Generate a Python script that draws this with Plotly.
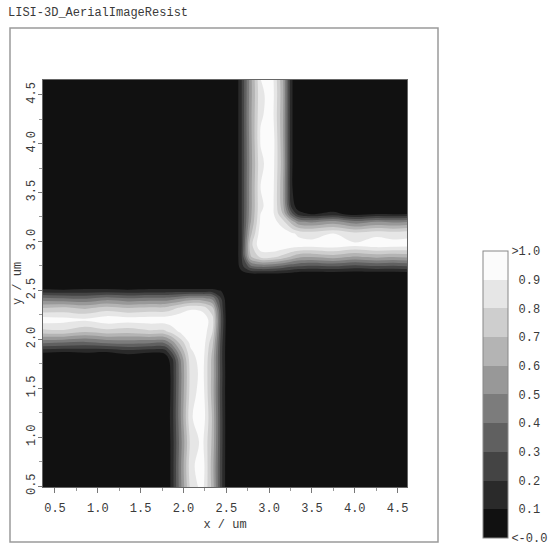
import plotly.graph_objects as go

# ---- data ----
# non-uniform grid (um) placed along the feature edges
x_um = [0.35, 0.6, 0.85, 1.1, 1.35, 1.6, 1.78, 1.86, 1.96, 2.08, 2.22, 2.34, 2.44, 2.52,
        2.6, 2.68, 2.78, 2.9, 3.04, 3.16, 3.26, 3.34, 3.5, 3.75, 4.0, 4.25, 4.45, 4.62]
y_um = [0.48, 0.7, 0.95, 1.2, 1.45, 1.65, 1.79, 1.87, 1.96, 2.08, 2.2, 2.32, 2.42, 2.5,
        2.58, 2.66, 2.74, 2.84, 2.96, 3.08, 3.2, 3.28, 3.36, 3.55, 3.8, 4.05, 4.3, 4.5, 4.66]

# resist aerial image intensity in percent, rows = y_um, columns = x_um
z_percent = [
    [0, 0, 0, 0, 0, 0,   0, 12, 45, 82, 94, 66, 24, 0,   0, 0, 0, 0, 0, 0, 0, 0,   0, 0, 0, 0, 0, 0],
    [0, 0, 0, 0, 0, 0,   0, 12, 46, 86, 97, 64, 24, 0,   0, 0, 0, 0, 0, 0, 0, 0,   0, 0, 0, 0, 0, 0],
    [0, 0, 0, 0, 0, 0,   0, 12, 44, 82, 93, 67, 25, 0,   0, 0, 0, 0, 0, 0, 0, 0,   0, 0, 0, 0, 0, 0],
    [0, 0, 0, 0, 0, 0,   0, 13, 47, 88, 98, 68, 25, 0,   0, 0, 0, 0, 0, 0, 0, 0,   0, 0, 0, 0, 0, 0],
    [0, 0, 0, 0, 0, 0,   0, 12, 46, 84, 96, 65, 24, 0,   0, 0, 0, 0, 0, 0, 0, 0,   0, 0, 0, 0, 0, 0],
    [0, 0, 0, 0, 0, 0,   0, 12, 45, 83, 94, 66, 25, 0,   0, 0, 0, 0, 0, 0, 0, 0,   0, 0, 0, 0, 0, 0],
    [0, 0, 0, 0, 0, 0,   3, 14, 48, 85, 95, 66, 24, 0,   0, 0, 0, 0, 0, 0, 0, 0,   0, 0, 0, 0, 0, 0],
    [11, 10, 11, 10, 14, 11,   12, 30, 58, 88, 96, 68, 24, 0,   0, 0, 0, 0, 0, 0, 0, 0,   0, 0, 0, 0, 0, 0],
    [40, 38, 36, 40, 42, 40,   40, 52, 72, 92, 97, 72, 25, 0,   0, 0, 0, 0, 0, 0, 0, 0,   0, 0, 0, 0, 0, 0],
    [76, 78, 72, 76, 74, 78,   78, 84, 92, 98, 98, 80, 28, 0,   0, 0, 0, 0, 0, 0, 0, 0,   0, 0, 0, 0, 0, 0],
    [96, 94, 92, 97, 95, 96,   96, 97, 99, 100, 98, 84, 30, 0,   0, 0, 0, 0, 0, 0, 0, 0,   0, 0, 0, 0, 0, 0],
    [70, 72, 68, 74, 70, 72,   72, 76, 82, 88, 86, 72, 26, 0,   0, 0, 0, 0, 0, 0, 0, 0,   0, 0, 0, 0, 0, 0],
    [42, 40, 38, 44, 40, 42,   42, 44, 48, 52, 52, 46, 20, 0,   0, 0, 0, 0, 0, 0, 0, 0,   0, 0, 0, 0, 0, 0],
    [12, 11, 12, 12, 11, 12,   12, 12, 12, 12, 12, 12, 9, 0,   0, 0, 0, 0, 0, 0, 0, 0,   0, 0, 0, 0, 0, 0],
    [0, 0, 0, 0, 0, 0,   0, 0, 0, 0, 0, 0, 0, 0,   0, 0, 0, 0, 0, 0, 0, 0,   0, 0, 0, 0, 0, 0],
    [0, 0, 0, 0, 0, 0,   0, 0, 0, 0, 0, 0, 0, 0,   0, 4, 5, 5, 5, 4, 3, 0,   0, 0, 0, 0, 0, 0],
    [0, 0, 0, 0, 0, 0,   0, 0, 0, 0, 0, 0, 0, 0,   0, 16, 34, 40, 38, 34, 30, 28,   26, 28, 24, 27, 26, 28],
    [0, 0, 0, 0, 0, 0,   0, 0, 0, 0, 0, 0, 0, 0,   0, 20, 68, 82, 82, 76, 68, 62,   60, 64, 58, 62, 60, 62],
    [0, 0, 0, 0, 0, 0,   0, 0, 0, 0, 0, 0, 0, 0,   0, 20, 75, 98, 100, 98, 96, 95,   94, 96, 92, 95, 94, 93],
    [0, 0, 0, 0, 0, 0,   0, 0, 0, 0, 0, 0, 0, 0,   0, 20, 66, 96, 99, 96, 92, 88,   86, 90, 84, 88, 86, 88],
    [0, 0, 0, 0, 0, 0,   0, 0, 0, 0, 0, 0, 0, 0,   0, 20, 58, 92, 95, 84, 66, 52,   48, 54, 44, 50, 48, 50],
    [0, 0, 0, 0, 0, 0,   0, 0, 0, 0, 0, 0, 0, 0,   0, 20, 56, 90, 93, 70, 35, 16,   9, 14, 5, 10, 9, 10],
    [0, 0, 0, 0, 0, 0,   0, 0, 0, 0, 0, 0, 0, 0,   0, 20, 55, 89, 93, 64, 18, 3,   0, 0, 0, 0, 0, 0],
    [0, 0, 0, 0, 0, 0,   0, 0, 0, 0, 0, 0, 0, 0,   0, 20, 55, 90, 94, 62, 12, 0,   0, 0, 0, 0, 0, 0],
    [0, 0, 0, 0, 0, 0,   0, 0, 0, 0, 0, 0, 0, 0,   0, 20, 54, 88, 95, 64, 12, 0,   0, 0, 0, 0, 0, 0],
    [0, 0, 0, 0, 0, 0,   0, 0, 0, 0, 0, 0, 0, 0,   0, 20, 55, 91, 96, 62, 12, 0,   0, 0, 0, 0, 0, 0],
    [0, 0, 0, 0, 0, 0,   0, 0, 0, 0, 0, 0, 0, 0,   0, 20, 56, 89, 93, 62, 12, 0,   0, 0, 0, 0, 0, 0],
    [0, 0, 0, 0, 0, 0,   0, 0, 0, 0, 0, 0, 0, 0,   0, 20, 55, 88, 94, 63, 12, 0,   0, 0, 0, 0, 0, 0],
    [0, 0, 0, 0, 0, 0,   0, 0, 0, 0, 0, 0, 0, 0,   0, 20, 55, 90, 93, 62, 12, 0,   0, 0, 0, 0, 0, 0],
]

level_values = [0.0, 0.1, 0.2, 0.3, 0.4, 0.5, 0.6, 0.7, 0.8, 0.9, 1.0]
level_labels = ["&lt;-0.0", "\u00a00.1", "\u00a00.2", "\u00a00.3", "\u00a00.4", "\u00a00.5",
                "\u00a00.6", "\u00a00.7", "\u00a00.8", "\u00a00.9", "&gt;1.0"]
band_colors = ["#111111", "#2a2a2a", "#444444", "#606060", "#7c7c7c",
               "#989898", "#b4b4b4", "#cecece", "#e6e6e6", "#fbfbfb"]

title_text = "LISI-3D_AerialImageResist"
x_title = "x / um"
y_title = "y / um"

# ---- figure ----
z = [[v / 100.0 for v in row] for row in z_percent]
n = len(band_colors)
# colours at band midpoints for the filled contour
contour_scale = [[k / (n - 1), c] for k, c in enumerate(band_colors)]
# stepped scale for the legend bar (0 .. 1 in 10 equal bands)
step_scale = []
for k, c in enumerate(band_colors):
    step_scale.append([k / n, c])
    step_scale.append([(k + 1) / n, c])

W, H = 551, 548
L, R, T, B = 43, 144, 80, 61
pw, ph = W - L - R, H - T - B

def px_x(p):
    return (p - L) / pw

def px_y(p):
    return (H - B - p) / ph

font = dict(family="Liberation Mono, DejaVu Sans Mono, monospace", size=12, color="#3a3a3a")

fig = go.Figure()
fig.add_trace(go.Contour(
    x=x_um, y=y_um, z=z,
    contours=dict(start=0.1, end=0.9, size=0.1, coloring="fill", showlines=False),
    line=dict(width=0, smoothing=1.0),
    colorscale=contour_scale, showscale=False,
))
# colour bar carrier (no visible points)
fig.add_trace(go.Scatter(
    x=[None] * len(level_values), y=[None] * len(level_values), mode="markers",
    hoverinfo="skip", showlegend=False,
    marker=dict(color=level_values, cmin=-0.0005, cmax=1.0005, colorscale=step_scale,
                showscale=True,
                colorbar=dict(
                    tickmode="array", tickvals=level_values, ticktext=level_labels, ticks="",
                    tickfont=font, ticklabeloverflow="allow",
                    x=px_x(483), xanchor="left", y=px_y(538), yanchor="bottom",
                    lenmode="pixels", len=287, thicknessmode="pixels", thickness=25,
                    xpad=0, ypad=0, outlinecolor="#888888", outlinewidth=1,
                )),
))

fig.update_layout(
    width=W, height=H,
    margin=dict(l=L, r=R, t=T, b=B, autoexpand=False),
    paper_bgcolor="white", plot_bgcolor="#111111",
    font=font,
    title=dict(text=title_text, x=8 / W, xanchor="left", xref="container",
               y=1 - 12 / H, yanchor="middle", yref="container", font=font),
    shapes=[dict(type="rect", xref="paper", yref="paper",
                 x0=px_x(10), x1=px_x(438), y0=px_y(542), y1=px_y(28),
                 line=dict(color="#9a9a9a", width=1.5), layer="below")],
    xaxis=dict(range=[0.36, 4.61], tick0=0.5, dtick=0.5, tickformat=".1f",
               ticks="outside", ticklen=5, tickcolor="#777777", ticklabelstandoff=5,
               minor=dict(dtick=0.25, tick0=0.25, ticks="outside", ticklen=3, tickcolor="#999999"),
               showgrid=False, zeroline=False, showline=True, linecolor="#666666",
               mirror=True, automargin=False,
               title=dict(text=x_title, standoff=4, font=font)),
    yaxis=dict(range=[0.49, 4.65], tick0=0.5, dtick=0.5, tickformat=".1f", tickangle=-90,
               ticks="outside", ticklen=4, tickcolor="#777777", ticklabelstandoff=-2,
               minor=dict(dtick=0.25, tick0=0.25, ticks="outside", ticklen=3, tickcolor="#999999"),
               showgrid=False, zeroline=False, showline=True, linecolor="#666666",
               mirror=True, automargin=False,
               title=dict(text=y_title, standoff=0, font=font)),
)

fig.write_html("out.html", config={"displayModeBar": False},
               post_script="document.body.style.margin='0';")
